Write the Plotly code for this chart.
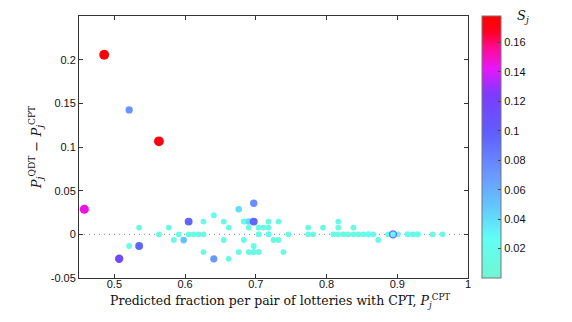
import plotly.graph_objects as go

# ---- data ----
p_cpt = [0.4856, 0.5209, 0.5630, 0.4575, 0.5068, 0.5209, 0.5350, 0.5350, 0.5630, 0.5770,
         0.5840, 0.5910, 0.5980, 0.6050, 0.6050, 0.6120, 0.6190, 0.6260, 0.6260, 0.6260,
         0.6406, 0.6406, 0.6547, 0.6547, 0.6617, 0.6617, 0.6758, 0.6758, 0.6830, 0.6830,
         0.6970, 0.6900, 0.6970, 0.6900, 0.6970, 0.6900, 0.6970, 0.7040, 0.7040, 0.7110,
         0.7180, 0.7180, 0.7320, 0.7040, 0.7180, 0.7250, 0.7320, 0.7040, 0.7390, 0.7460,
         0.7740, 0.7740, 0.7810, 0.7950, 0.8166, 0.8166, 0.8380, 0.8096, 0.8166, 0.8237,
         0.8307, 0.8380, 0.8450, 0.8520, 0.8590, 0.8660, 0.8730, 0.8870, 0.9010, 0.9150,
         0.9220, 0.9290, 0.9500, 0.9640]
diff = [0.2057, 0.1425, 0.1065, 0.0287, -0.0280, -0.0134, -0.0134, 0.0077, 0.0000, 0.0077,
        -0.0065, 0.0000, -0.0065, 0.0146, 0.0000, 0.0000, 0.0000, 0.0000, 0.0146, -0.0203,
        -0.0280, 0.0218, 0.0146, -0.0065, 0.0077, -0.0280, 0.0287, -0.0203, 0.0146, -0.0065,
        0.0356, 0.0146, 0.0146, 0.0077, -0.0134, -0.0203, -0.0203, -0.0203, 0.0077, 0.0077,
        0.0077, 0.0146, 0.0146, 0.0000, 0.0000, -0.0065, -0.0065, 0.0000, -0.0203, 0.0000,
        0.0077, 0.0000, 0.0000, 0.0077, 0.0146, 0.0077, 0.0077, 0.0000, 0.0000, 0.0000,
        0.0000, 0.0000, 0.0000, 0.0000, 0.0000, 0.0000, -0.0065, 0.0000, 0.0000, 0.0000,
        0.0000, 0.0000, 0.0000, 0.0000]
s_j = [0.175, 0.072, 0.172, 0.145, 0.115, 0.015, 0.095, 0.012, 0.012, 0.012,
       0.013, 0.015, 0.050, 0.095, 0.015, 0.015, 0.012, 0.012, 0.012, 0.012,
       0.070, 0.018, 0.012, 0.012, 0.012, 0.012, 0.040, 0.013, 0.018, 0.015,
       0.075, 0.040, 0.095, 0.012, 0.015, 0.012, 0.015, 0.015, 0.012, 0.012,
       0.012, 0.012, 0.015, 0.012, 0.022, 0.012, 0.012, 0.012, 0.012, 0.012,
       0.012, 0.015, 0.012, 0.012, 0.012, 0.012, 0.012, 0.012, 0.012, 0.012,
       0.012, 0.012, 0.012, 0.012, 0.025, 0.012, 0.012, 0.012, 0.012, 0.025,
       0.012, 0.020, 0.012, 0.012]
ring_x = [0.894]
ring_y = [0.0]

x_ticks = [0.5, 0.6, 0.7, 0.8, 0.9, 1.0]
x_labels = ["0.5", "0.6", "0.7", "0.8", "0.9", "1"]
y_ticks = [-0.05, 0.0, 0.05, 0.1, 0.15, 0.2]
y_labels = ["-0.05", "0", "0.05", "0.1", "0.15", "0.2"]
c_ticks = [0.02, 0.04, 0.06, 0.08, 0.1, 0.12, 0.14, 0.16]
c_labels = ["0.02", "0.04", "0.06", "0.08", "0.1", "0.12", "0.14", "0.16"]

colorscale = [[0.0, "#72F5D2"], [0.15, "#60FFF5"], [0.27, "#64C8FF"], [0.4, "#6A96FF"],
              [0.55, "#5F5FFF"], [0.7, "#7B3CFF"], [0.8, "#E814FA"], [0.88, "#FF0A90"],
              [0.94, "#FF0020"], [1.0, "#FF0000"]]
CMIN, CMAX = 0.0, 0.178

sizes = [5.5 + 25 * s for s in s_j]

fig = go.Figure()
fig.add_trace(go.Scatter(
    x=p_cpt, y=diff, mode="markers",
    marker=dict(size=sizes, color=s_j, colorscale=colorscale, cmin=CMIN, cmax=CMAX,
                line=dict(width=0), opacity=1,
                colorbar=dict(x=1.036, xanchor="left", xpad=0, y=0.5, yanchor="middle",
                              len=1, lenmode="fraction", thickness=19, ypad=0,
                              outlinecolor="#777", outlinewidth=1,
                              tickmode="array", tickvals=c_ticks, ticktext=c_labels,
                              ticks="inside", ticklen=3, tickcolor="#444",
                              tickfont=dict(family="Liberation Sans", size=11, color="#111"))),
    showlegend=False, hoverinfo="skip"))
fig.add_trace(go.Scatter(
    x=ring_x, y=ring_y, mode="markers",
    marker=dict(size=7, color="#6FEFFF", line=dict(color="#6A6CFF", width=1.3)),
    showlegend=False, hoverinfo="skip"))

fig.add_shape(type="line", xref="paper", yref="y", x0=0, x1=1, y0=0, y1=0,
              line=dict(color="#888", width=1, dash="1px,4px"), layer="below")

axis_common = dict(showgrid=False, zeroline=False, showline=True, linecolor="#333",
                   linewidth=1, mirror="ticks", ticks="inside", ticklen=4, tickcolor="#333",
                   automargin=False,
                   tickfont=dict(family="Liberation Sans", size=11, color="#111"))

# page body adds an 8px offset; margins compensate so the plot sits at x 79-468, y 16-278
fig.update_layout(
    width=572, height=322,
    margin=dict(l=71, r=112, t=8, b=52),
    paper_bgcolor="white", plot_bgcolor="white",
    xaxis=dict(range=[0.45, 1.0], tickmode="array", tickvals=x_ticks, ticktext=x_labels,
               ticklabelstandoff=-4, **axis_common),
    yaxis=dict(range=[-0.05, 0.25], tickmode="array", tickvals=y_ticks, ticktext=y_labels,
               title=dict(text="<i>P</i><sub><i>j</i></sub><sup>QDT</sup> − <i>P</i><sub><i>j</i></sub><sup>CPT</sup>",
                          font=dict(family="DejaVu Serif", size=13, color="#111"), standoff=6),
               **axis_common),
    annotations=[
        dict(text="<i>S</i><sub><i>j</i></sub>", xref="paper", yref="paper",
             x=(523 - 79) / 389, y=1.0, xanchor="center", yanchor="middle",
             showarrow=False, font=dict(family="DejaVu Serif", size=13, color="#111")),
        dict(text="Predicted fraction per pair of lotteries with CPT, <i>P</i><sub><i>j</i></sub><sup>CPT</sup>",
             xref="paper", yref="paper", x=(280 - 79) / 389, y=-0.088,
             xanchor="center", yanchor="middle", showarrow=False,
             font=dict(family="DejaVu Serif", size=12.5, color="#111")),
    ],
)

fig.write_html("out.html")
